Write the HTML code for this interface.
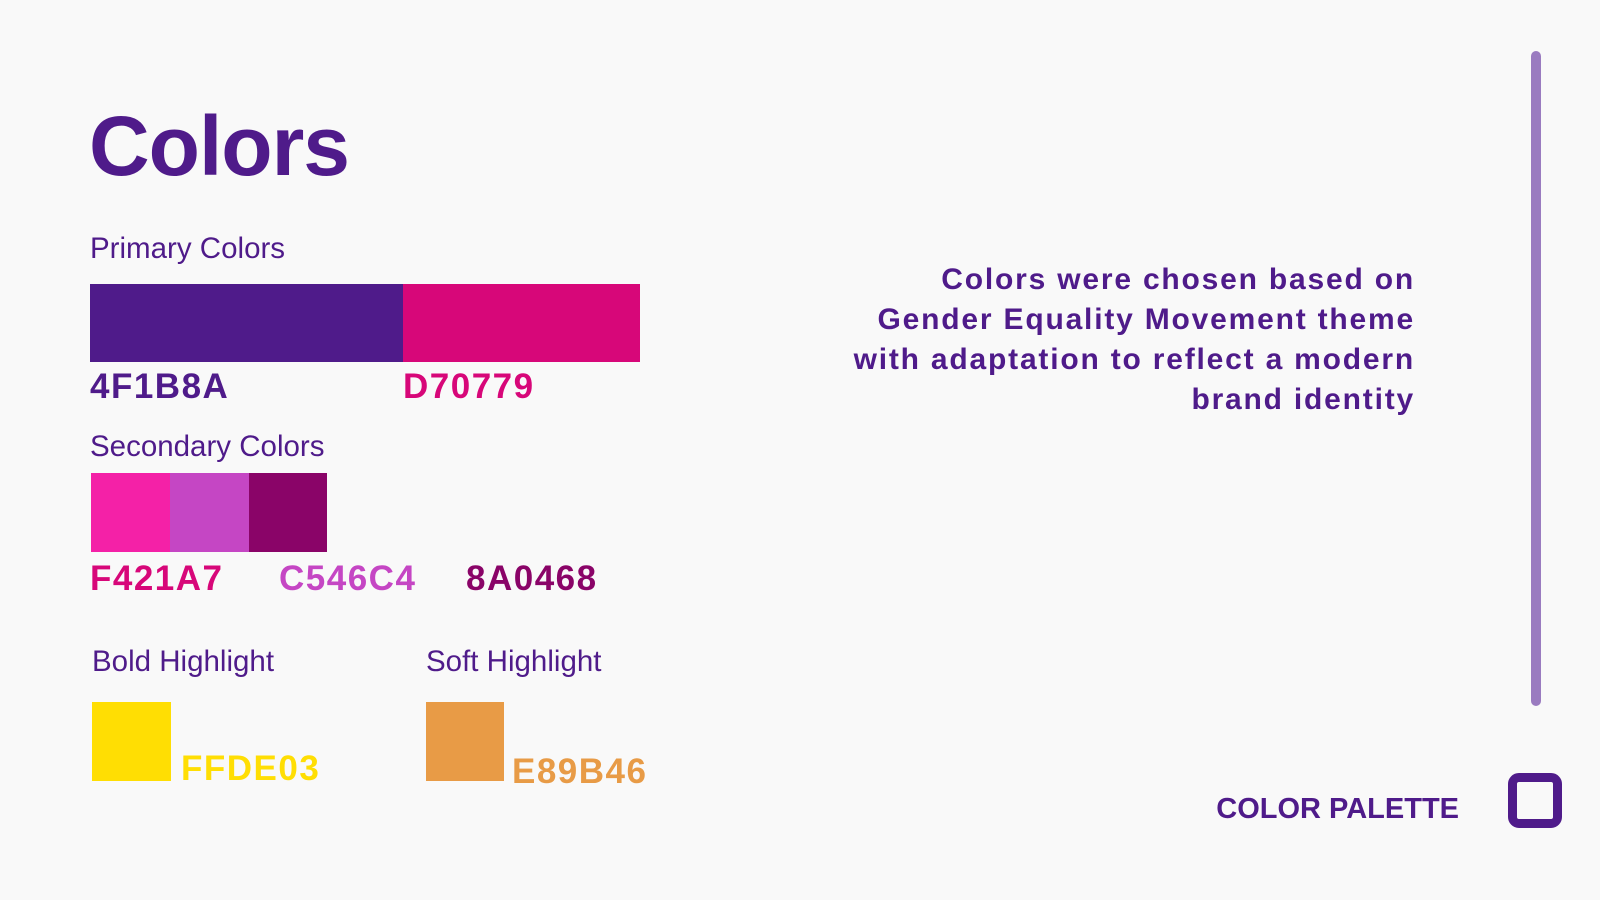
<!DOCTYPE html>
<html><head><meta charset="utf-8"><style>
body{margin:0;width:1600px;height:900px;background:#f9f9f9;position:relative;overflow:hidden;font-family:"Liberation Sans",sans-serif;color:#4f1b8a}
.a{position:absolute}
.t{font-weight:bold;white-space:nowrap}
.sub{font-size:29.5px;line-height:1}
.hex{font-size:35px;font-weight:bold;line-height:1;letter-spacing:1.5px}
</style></head><body>
<div class="a t" style="left:89px;top:104px;font-size:84px;line-height:1;letter-spacing:-1px">Colors</div>
<div class="a sub" style="left:90px;top:234px">Primary Colors</div>
<div class="a" style="left:90px;top:284px;width:313px;height:78px;background:#4f1b8a"></div>
<div class="a" style="left:403px;top:284px;width:237px;height:78px;background:#d70779"></div>
<div class="a hex" style="left:90px;top:369px;color:#4f1b8a">4F1B8A</div>
<div class="a hex" style="left:403px;top:369px;color:#d70779">D70779</div>
<div class="a sub" style="left:90px;top:432px">Secondary Colors</div>
<div class="a" style="left:91px;top:473px;width:79px;height:79px;background:#f421a7"></div>
<div class="a" style="left:170px;top:473px;width:79px;height:79px;background:#c546c4"></div>
<div class="a" style="left:249px;top:473px;width:78px;height:79px;background:#8a0468"></div>
<div class="a hex" style="left:90px;top:561px;color:#d70779">F421A7</div>
<div class="a hex" style="left:279px;top:561px;color:#c546c4">C546C4</div>
<div class="a hex" style="left:466px;top:561px;color:#8a0468">8A0468</div>
<div class="a sub" style="left:92px;top:647px">Bold Highlight</div>
<div class="a sub" style="left:426px;top:647px">Soft Highlight</div>
<div class="a" style="left:92px;top:702px;width:79px;height:79px;background:#ffde03"></div>
<div class="a" style="left:426px;top:702px;width:78px;height:79px;background:#e89b46"></div>
<div class="a hex" style="left:181px;top:751px;color:#ffde03">FFDE03</div>
<div class="a hex" style="left:512px;top:754px;color:#e89b46">E89B46</div>
<div class="a t" style="right:185px;top:260px;text-align:right;font-size:30px;line-height:40px;letter-spacing:1.8px">Colors were chosen based on<br>Gender Equality Movement theme<br>with adaptation to reflect a modern<br>brand identity</div>
<div class="a" style="left:1531px;top:51px;width:10px;height:655px;border-radius:5px;background:#9a7bc0"></div>
<div class="a t" style="right:141px;top:795px;font-size:29px;line-height:1">COLOR PALETTE</div>
<div class="a" style="left:1508px;top:773px;width:36px;height:37px;border:9px solid #4f1b8a;border-radius:11px"></div>
</body></html>
